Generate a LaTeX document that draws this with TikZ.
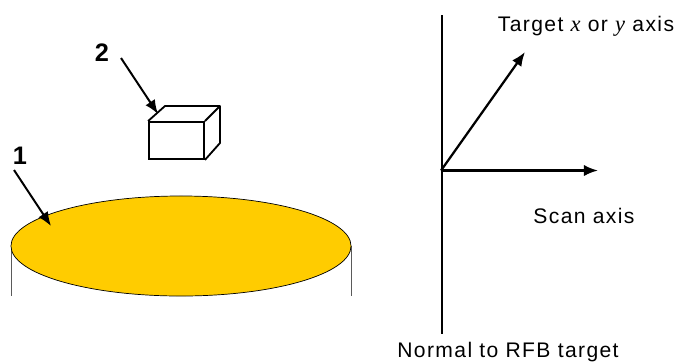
\documentclass[tikz,border=0pt]{standalone}
\usepackage{fontspec}
\setmainfont[LetterSpace=6.5]{Liberation Sans}
\newfontfamily\axisvar[ItalicFont={Liberation Serif Italic}]{Liberation Serif}
\usetikzlibrary{arrows.meta,shapes.geometric}
\definecolor{discgold}{RGB}{255,204,0}
\definecolor{rimgray}{RGB}{90,90,90}

\begin{document}
\begin{tikzpicture}[x=0.025cm, y=-0.025cm, every node/.style={font=\fontsize{15}{18}\selectfont},
  pointer/.style={-{Latex[length=10pt,width=8pt]}, line width=1.4pt},
  axisline/.style={-{Latex[length=10pt,width=8pt]}, line width=1.6pt},
  numlabel/.style={font=\fontsize{18}{21}\selectfont\bfseries}]
\useasboundingbox (0,0) rectangle (675,363);
% support under the disc
\coordinate (rimL) at (11,246);
\coordinate (rimLb) at (11,296);
\coordinate (rimR) at (351,246);
\coordinate (rimRb) at (351,296);
\draw[rimgray, line width=0.5pt] (rimL) -- (rimLb);
\draw[rimgray, line width=0.5pt] (rimR) -- (rimRb);
\node[draw=black, fill=discgold, ellipse, inner sep=0pt, line width=0.5pt, minimum width=8.5cm, minimum height=2.5cm] (disc) at (181,246) {};
% box
\node[draw=black, fill=white, rectangle, inner sep=0pt, line width=1.3pt, minimum width=1.375cm, minimum height=0.925cm] (box) at (176.5,140.5) {};
\coordinate (boxTL) at (box.north west);
\coordinate (boxTR) at (box.north east);
\coordinate (boxBR) at (box.south east);
\coordinate (backTL) at (165,106);
\coordinate (backTR) at (220,106);
\coordinate (backBR) at (220,143);
\draw[line width=1.3pt, line join=round] (boxTL) -- (backTL) -- (backTR) -- (backBR) -- (boxBR);
\draw[line width=1.3pt] (boxTR) -- (backTR);
% numbered pointers
\node[numlabel] (one) at (20,156) {1};
\node[numlabel] (two) at (102,53) {2};
\coordinate (oneStart) at (14,170);
\coordinate (oneEnd) at (51,226);
\coordinate (twoStart) at (121,58);
\coordinate (twoEnd) at (158,114);
\draw[pointer] (oneStart) -- (oneEnd);
\draw[pointer] (twoStart) -- (twoEnd);
% axes
\coordinate (origin) at (441,170.5);
\coordinate (normalTop) at (441.7,15);
\coordinate (normalEnd) at (441.7,334);
\coordinate (targetEnd) at (525,52);
\coordinate (scanEnd) at (598,170.5);
\draw[line width=1.5pt] (normalTop) -- (normalEnd);
\draw[axisline] (origin) -- (targetEnd);
\draw[axisline] (origin) -- (scanEnd);
\node (target) at (586,26) {Target {\axisvar\itshape\fontsize{16}{18}\selectfont x} or {\axisvar\itshape\fontsize{16}{18}\selectfont y} axis};
\node (scan) at (584,216) {Scan axis};
\node (normal) at (508,352) {Normal to RFB target};
\end{tikzpicture}
\end{document}
